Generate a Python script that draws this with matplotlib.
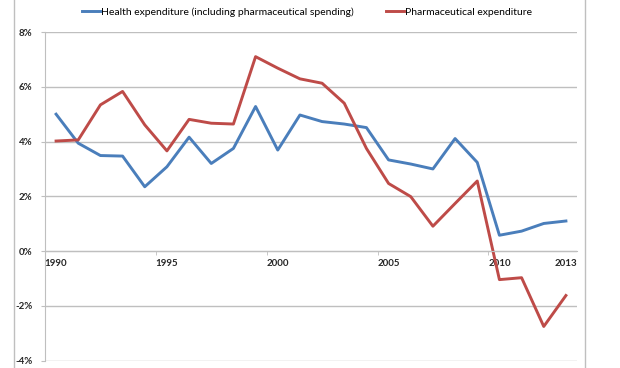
import matplotlib.pyplot as plt
from matplotlib.lines import Line2D
from matplotlib.ticker import FuncFormatter

plt.rcParams["font.family"] = ["Lato", "DejaVu Sans"]

# データ（年次伸び率, %）
years = list(range(1990, 2014))
health = [5.0, 3.94, 3.49, 3.47, 2.35, 3.08, 4.16, 3.2, 3.75, 5.28, 3.69, 4.97,
          4.73, 4.64, 4.51, 3.33, 3.18, 3.0, 4.11, 3.24, 0.58, 0.73, 1.01, 1.1]
pharma = [4.02, 4.06, 5.34, 5.83, 4.61, 3.66, 4.81, 4.67, 4.64, 7.1, 6.68, 6.29,
          6.13, 5.4, 3.75, 2.47, 1.99, 0.91, 1.74, 2.56, -1.04, -0.97, -2.75, -1.62]
label_years = [1990, 1995, 2000, 2005, 2010, 2013]
y_ticks = [-4, -2, 0, 2, 4, 6, 8]

grid_col = "#bfbfbf"
text_col = "#262626"

fig = plt.figure(figsize=(6.2, 3.68), dpi=100)
ax = fig.add_axes([45 / 620, 7.3 / 368, 532 / 620, 328.7 / 368])

ax.plot(years, health, color="#4a7ebb", lw=2.1,
        label="Health expenditure (including pharmaceutical spending)")
ax.plot(years, pharma, color="#be4b48", lw=2.1,
        label="Pharmaceutical expenditure")

ax.set_xlim(1989.5, 2013.5)
ax.set_ylim(-4, 8)
ax.set_yticks(y_ticks)
ax.yaxis.set_major_formatter(FuncFormatter(lambda v, p: f"{v:.0f}%"))
ax.grid(axis="y", color=grid_col, lw=1)
ax.set_axisbelow(True)

# 横軸は0%の位置
for s in ["top", "right"]:
    ax.spines[s].set_visible(False)
ax.spines["left"].set_color(grid_col)
ax.spines["bottom"].set_color(grid_col)
ax.spines["bottom"].set_position(("data", 0))

ax.set_xticks(label_years)
ax.set_xticklabels([str(y) for y in label_years])
ax.set_xticks([1994.5, 1999.5, 2004.5, 2009.5], minor=True)
ax.tick_params(axis="x", which="major", length=0, pad=6, labelsize=7, colors=text_col)
ax.tick_params(axis="x", which="minor", length=3, color=grid_col)
ax.tick_params(axis="y", length=3, color=grid_col, labelsize=7, colors=text_col, pad=6)
for lab in ax.get_xticklabels() + ax.get_yticklabels():
    lab.set_fontweight("bold")
    lab.set_color(text_col)

# 外枠
for x in [14 / 620, 585 / 620]:
    fig.add_artist(Line2D([x, x], [0, 1], color=grid_col, lw=1))

fig.legend(loc="center", bbox_to_anchor=(0.495, 1 - 12 / 368), ncol=2, frameon=False,
           fontsize=7.5, handlelength=1.7, handletextpad=0.1, columnspacing=3.1)

plt.savefig("out.png", dpi=100)
